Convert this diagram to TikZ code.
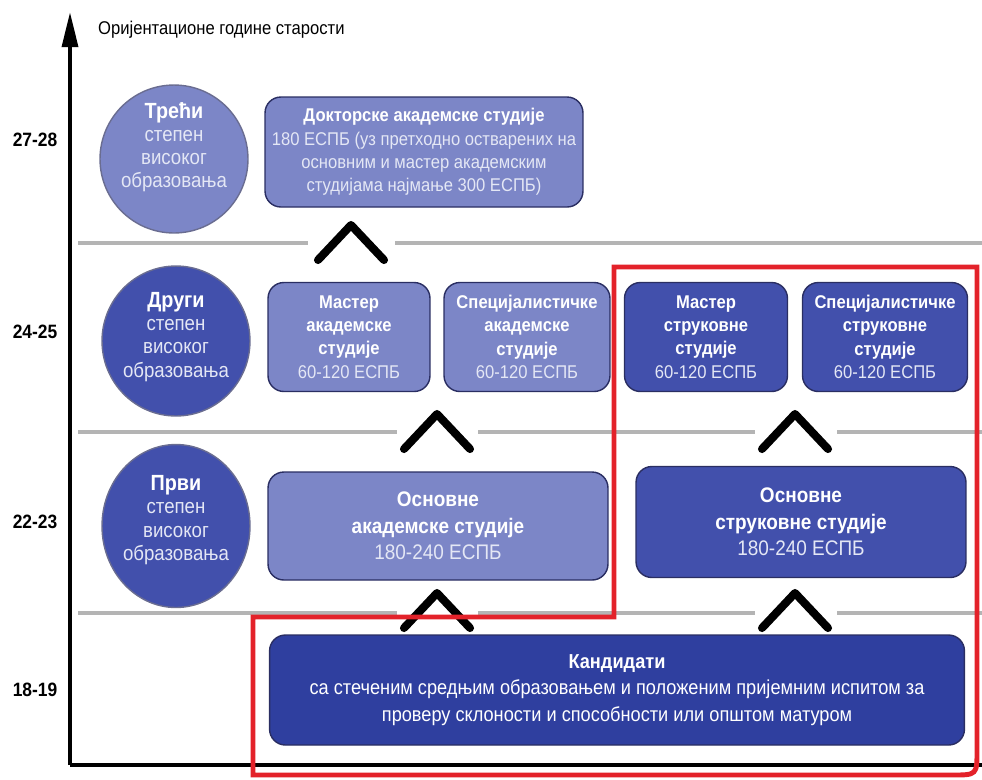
\documentclass[tikz,border=0pt]{standalone}
\usepackage{fontspec}
\setmainfont{Liberation Sans}[FakeStretch=0.9]
\usetikzlibrary{arrows.meta,shapes.geometric}
\definecolor{lightbox}{HTML}{7C86C7}
\definecolor{darkbox}{HTML}{4250AC}
\definecolor{deepbox}{HTML}{2F3F9F}
\definecolor{boxline}{HTML}{2A2E62}
\definecolor{softtext}{HTML}{E4E7F5}
\definecolor{sepgrey}{HTML}{B4B4B4}
\definecolor{framered}{HTML}{E3222A}

\begin{document}
\begin{tikzpicture}[x=0.02cm, y=-0.02cm,
  every node/.style={font=\fontsize{10.5}{13.3}\selectfont},
  studybox/.style={draw=boxline, line width=0.8pt, rounded corners=9pt, align=center,
                   text=softtext, inner sep=2pt},
  light/.style={studybox, fill=lightbox},
  dark/.style={studybox, fill=darkbox},
  levelball/.style={ellipse, draw=boxline!70, line width=0.8pt, minimum width=2.96cm, inner sep=0pt},
  balltext/.style={align=center, text=softtext, inner sep=0pt, font=\fontsize{11.8}{13.2}\selectfont},
  age/.style={font=\fontsize{11}{13}\selectfont\bfseries},
  sep/.style={sepgrey, line width=2.2pt},
  chevron/.pic={\draw[line width=4.6pt, line cap=round, line join=round]
                (-33,17) -- (0,-18) -- (33,17);}
]
\useasboundingbox (0,0) rectangle (982,779);

% axes
\coordinate (origin) at (70,765);
\coordinate (ytop) at (70,12);
\coordinate (xend) at (982,765);
\draw[line width=2.3pt, -{Triangle[length=20pt,width=9pt]}] (origin) -- (ytop);
\draw[line width=2.3pt] (origin) -- (xend);
\node[anchor=west, font=\fontsize{10.5}{12}\selectfont] (axislabel) at (92,30)
  {Оријентационе године старости};

\node[age] (a27) at (35,140) {27-28};
\node[age] (a24) at (35,332) {24-25};
\node[age] (a22) at (35,522) {22-23};
\node[age] (a18) at (35,690) {18-19};

% separators
\draw[sep] (78,243) -- (308,243) (395,243) -- (982,243);
\draw[sep] (78,432) -- (397,432) (478,432) -- (755,432) (837,432) -- (982,432);
\draw[sep] (78,613) -- (397,613) (478,613) -- (755,613) (837,613) -- (982,613);

% levels
\node[levelball, fill=lightbox, minimum height=2.96cm] (treci) at (174,159) {};
\node[balltext] (trecitxt) at ([yshift=6.8pt]treci.center)
  {\textbf{\textcolor{white}{\fontsize{12.5}{14}\selectfont Трећи}}\\степен\\високог\\образовања};
\node[levelball, fill=darkbox, minimum height=3cm] (drugi) at (176,341) {};
\node[balltext] (drugitxt) at ([yshift=2.3pt]drugi.center)
  {\textbf{\textcolor{white}{\fontsize{12.5}{14}\selectfont Други}}\\степен\\високог\\образовања};
\node[levelball, fill=darkbox, minimum height=3.26cm] (prvi) at (176,526) {};
\node[balltext] (prvitxt) at ([yshift=3.4pt]prvi.center)
  {\textbf{\textcolor{white}{\fontsize{12.5}{14}\selectfont Први}}\\степен\\високог\\образовања};

% studies
\node[light, minimum width=6.36cm, minimum height=2.2cm] (dok) at (424,152)
  {\textbf{\textcolor{white}{Докторске академске студије}}\\
   180 ЕСПБ (уз претходно остварених на\\основним и мастер академским\\студијама најмање 300 ЕСПБ)};
\node[light, minimum width=3.24cm, minimum height=2.18cm] (mak) at (349,337)
  {\textbf{\textcolor{white}{Мастер}}\\\textbf{\textcolor{white}{академске}}\\
   \textbf{\textcolor{white}{студије}}\\60-120 ЕСПБ};
\node[light, minimum width=3.32cm, minimum height=2.18cm] (sak) at (527,337)
  {\textbf{\textcolor{white}{Специјалистичке}}\\\textbf{\textcolor{white}{академске}}\\
   \textbf{\textcolor{white}{студије}}\\60-120 ЕСПБ};
\node[dark, minimum width=3.26cm, minimum height=2.18cm] (mst) at (706,337)
  {\textbf{\textcolor{white}{Мастер}}\\\textbf{\textcolor{white}{струковне}}\\
   \textbf{\textcolor{white}{студије}}\\60-120 ЕСПБ};
\node[dark, minimum width=3.3cm, minimum height=2.18cm] (sst) at (885,337)
  {\textbf{\textcolor{white}{Специјалистичке}}\\\textbf{\textcolor{white}{струковне}}\\
   \textbf{\textcolor{white}{студије}}\\60-120 ЕСПБ};
\node[light, minimum width=6.8cm, minimum height=2.16cm, font=\fontsize{12}{15}\selectfont] (oak) at (438,526)
  {\textbf{\textcolor{white}{Основне}}\\\textbf{\textcolor{white}{академске студије}}\\180-240 ЕСПБ};
\node[dark, minimum width=6.6cm, minimum height=2.22cm, font=\fontsize{12}{15}\selectfont] (ost) at (801,522)
  {\textbf{\textcolor{white}{Основне}}\\\textbf{\textcolor{white}{струковне студије}}\\180-240 ЕСПБ};
\node[studybox, fill=deepbox, text=white, minimum width=13.9cm, minimum height=2.2cm,
      font=\fontsize{11.5}{15}\selectfont] (kand) at (617,690)
  {\textbf{Кандидати}\\са стеченим средњим образовањем и положеним пријемним испитом за\\
   проверу склоности и способности или општом матуром};

% steps up
\pic at (351,243) {chevron};
\pic at (437,432) {chevron};
\pic at (795,432) {chevron};
\pic at (437,611) {chevron};
\pic at (795,611) {chevron};

% highlighted path
\draw[framered, line width=2.8pt, line join=miter]
  (614,617) -- (614,267) -- (977,267) -- (977,750)
  .. controls (977,775) .. (952,775) -- (253,775) -- (253,617) -- cycle;
\end{tikzpicture}
\end{document}
